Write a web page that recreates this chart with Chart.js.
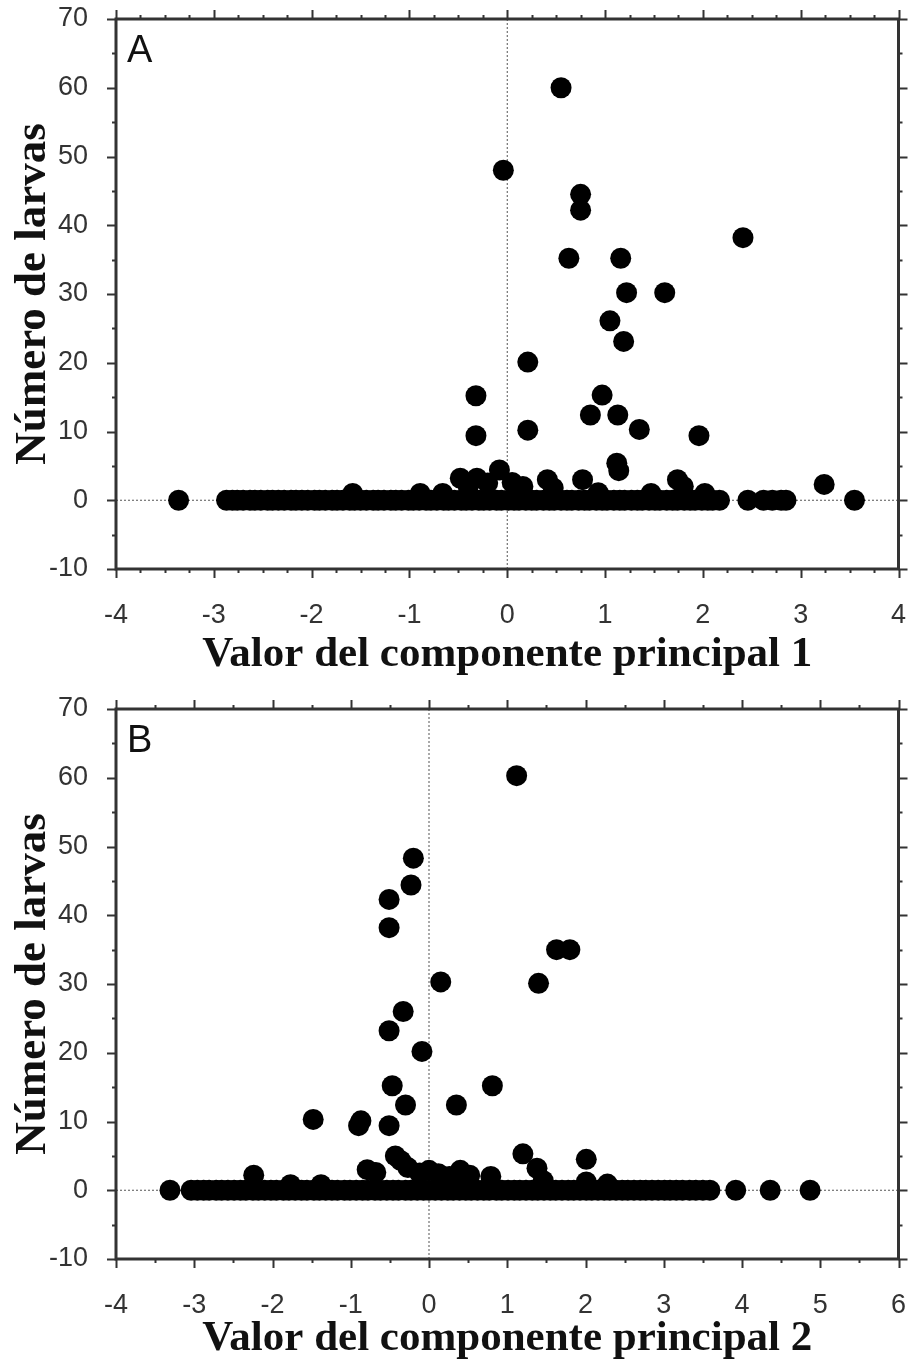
<!DOCTYPE html>
<html>
<head>
<meta charset="utf-8">
<script src="https://cdn.jsdelivr.net/npm/chart.js@4.4.1/dist/chart.umd.min.js"></script>
<style>
    html, body { margin: 0; padding: 0; background: #fff; }
    .panel { position: absolute; left: 0; width: 909px; }
    #panelA { top: 0; height: 683px; }
    #panelB { top: 683px; height: 684px; }
</style>
</head>
<body>
<div class="panel" id="panelA"><canvas id="graficoA"></canvas></div>
<div class="panel" id="panelB"><canvas id="graficoB"></canvas></div>
<script>
// ---- Panel A: componente principal 1 ----
// estaciones con 0 larvas (valor del componente)
const cp1Cero = [
    -3.36, -2.87, -2.81, -2.76, -2.70, -2.63, -2.58, -2.52, -2.45, -2.40, -2.34, -2.28,
    -2.21, -2.16, -2.10, -2.04, -1.97, -1.92, -1.86, -1.79, -1.74, -1.68, -1.61,
    -1.56, -1.50, -1.44, -1.37, -1.32, -1.26, -1.19, -1.14, -1.08, -1.01, -0.96,
    -0.90, -0.83, -0.78, -0.72, -0.65, -0.60, -0.54, -0.47, -0.42, -0.36, -0.29,
    -0.24, -0.18, -0.11, -0.06, 0.01, 0.07, 0.12, 0.19, 0.25, 0.30, 0.37, 0.43,
    0.48, 0.55, 0.61, 0.66, 0.73, 0.79, 0.84, 0.91, 0.97, 1.02, 1.09, 1.15, 1.20,
    1.27, 1.33, 1.38, 1.45, 1.51, 1.56, 1.63, 1.69, 1.74, 1.81, 1.87, 1.92, 1.99,
    2.05, 2.10, 2.17, 2.46, 2.62, 2.71, 2.80, 2.85, 3.55
];
// estaciones con larvas
const cp1Valor = [
    -1.58, -0.89, -0.66, -0.48, -0.40, -0.31, -0.20, -0.08, 0.05, 0.16, 0.41, 0.47,
    0.77, 0.93, 1.12, 1.14, 1.47, 1.74, 1.80, 2.02, 3.24,
    1.96, -0.32, 0.21, 1.35, 0.85, 1.13, -0.32, 0.97, 0.21, 1.19, 1.05, 1.22, 1.61,
    0.63, 1.16, 2.41, 0.75, 0.75, -0.04, 0.55
];
const cp1Larvas = [
    1, 1, 1, 3.2, 2, 3.2, 2.5, 4.4, 2.6, 2, 3, 1.8,
    3, 1.1, 5.4, 4.3, 1, 3, 2, 1, 2.3,
    9.4, 9.4, 10.2, 10.3, 12.4, 12.4, 15.2, 15.3, 20.1, 23.1, 26.1, 30.2, 30.2,
    35.2, 35.2, 38.2, 42.2, 44.5, 48, 60
];

// ---- Panel B: componente principal 2 ----
const cp2Cero = [
    -3.31, -3.04, -2.96, -2.88, -2.81, -2.72, -2.65, -2.57, -2.49, -2.41, -2.34,
    -2.25, -2.18, -2.10, -2.02, -1.95, -1.86, -1.79, -1.71, -1.63, -1.56, -1.47,
    -1.40, -1.32, -1.24, -1.17, -1.08, -1.01, -0.93, -0.85, -0.78, -0.69, -0.62,
    -0.54, -0.46, -0.39, -0.30, -0.23, -0.15, -0.07, 0.00, 0.08, 0.16, 0.24, 0.31,
    0.39, 0.47, 0.54, 0.62, 0.70, 0.77, 0.86, 0.93, 1.01, 1.09, 1.16, 1.24, 1.32,
    1.39, 1.47, 1.55, 1.62, 1.70, 1.78, 1.85, 1.93, 2.01, 2.08, 2.16, 2.24, 2.31,
    2.39, 2.47, 2.54, 2.62, 2.70, 2.77, 2.85, 2.93, 3.01, 3.08, 3.16, 3.24, 3.33,
    3.41, 3.50, 3.59, 3.92, 4.36, 4.87
];
const cp2Valor = [
    -2.24, -1.77, -1.38, -0.79, -0.68, -0.43, -0.36, -0.27, -0.12, 0.00, 0.12, 0.26,
    0.40, 0.52, 0.79, 1.20, 1.38, 1.46, 2.01, 2.01, 2.28,
    -1.48, -0.87, -0.90, -0.51, -0.30, 0.35, -0.47, 0.81, -0.09, -0.51, -0.33, 0.15,
    1.40, 1.63, 1.80, -0.51, -0.51, -0.23, -0.20, 1.12
];
const cp2Larvas = [
    2.2, 0.8, 0.8, 3.0, 2.6, 5.0, 4.3, 3.3, 2.5, 2.9, 2.4, 2.0,
    2.9, 2.2, 2.0, 5.3, 3.2, 1.4, 4.5, 1.2, 0.9,
    10.3, 10.1, 9.4, 9.4, 12.4, 12.4, 15.2, 15.2, 20.2, 23.2, 26, 30.3,
    30.1, 35, 35, 38.2, 42.3, 44.4, 48.3, 60.3
];

// ---- ejes ----
const ticksY = [-10, 0, 10, 20, 30, 40, 50, 60, 70];
const ticksX1 = [-4, -3, -2, -1, 0, 1, 2, 3, 4];
const ticksX2 = [-4, -3, -2, -1, 0, 1, 2, 3, 4, 5, 6];

const fuenteTicks = { family: "'Liberation Sans', Arial, sans-serif", size: 27 };
const fuenteTituloX = { family: "'Liberation Serif', 'Times New Roman', serif", size: 43, weight: 'bold' };
const fuenteTituloY = { family: "'Liberation Serif', 'Times New Roman', serif", size: 45, weight: 'bold' };

// sin relleno extra de las etiquetas: el área del gráfico queda fija
function sinRelleno(s) {
    s.paddingTop = 0; s.paddingBottom = 0; s.paddingLeft = 0; s.paddingRight = 0;
}

// marco con marcas mayores y menores en los cuatro lados + letra del panel
const marco = {
    id: 'marco',
    afterDraw(chart, args, opts) {
        const ctx = chart.ctx;
        const a = chart.chartArea;
        const sx = chart.scales.x, sy = chart.scales.y;
        ctx.save();
        ctx.strokeStyle = '#333';
        ctx.lineWidth = 2;
        for (let v = sx.min; v <= sx.max + 1e-9; v += opts.pasoX) {
            const px = Math.round(sx.getPixelForValue(v)) + 0.5;
            const mayor = Math.abs(v - Math.round(v)) < 1e-6;
            const len = mayor ? 9 : 4;
            ctx.beginPath();
            ctx.moveTo(px, a.bottom); ctx.lineTo(px, a.bottom + len);
            ctx.moveTo(px, a.top); ctx.lineTo(px, a.top - len);
            ctx.stroke();
        }
        for (let v = sy.min; v <= sy.max + 1e-9; v += 5) {
            const py = Math.round(sy.getPixelForValue(v)) + 0.5;
            const len = (v % 10 === 0) ? 9 : 4;
            ctx.beginPath();
            ctx.moveTo(a.left, py); ctx.lineTo(a.left - len, py);
            ctx.moveTo(a.right, py); ctx.lineTo(a.right + len, py);
            ctx.stroke();
        }
        ctx.lineWidth = 3;
        ctx.strokeRect(a.left, a.top, a.right - a.left, a.bottom - a.top);
        ctx.fillStyle = '#111';
        ctx.font = "38px 'Liberation Sans', Arial, sans-serif";
        ctx.textAlign = 'left';
        ctx.textBaseline = 'alphabetic';
        ctx.fillText(opts.letra, a.left + 11, a.top + 43);
        ctx.restore();
    }
};

function crearGrafico(id, cero, valor, larvas, ticksX, pasoX, letra, tituloX, padTop, altoX) {
    const puntos = cero.map(x => ({ x: x, y: 0 }))
        .concat(valor.map((x, i) => ({ x: x, y: larvas[i] })));
    const xMin = ticksX[0], xMax = ticksX[ticksX.length - 1];
    const refStyle = {
        type: 'line',
        borderColor: '#555',
        borderWidth: 1,
        borderDash: [2, 2],
        pointRadius: 0,
        fill: false,
        order: 2
    };
    return new Chart(document.getElementById(id), {
        type: 'scatter',
        data: {
            datasets: [{
                data: puntos,
                backgroundColor: '#000',
                borderWidth: 0,
                pointRadius: 10.5,
                pointHoverRadius: 10.5,
                order: 0
            }, Object.assign({ data: [{ x: 0, y: -10 }, { x: 0, y: 70 }] }, refStyle),
               Object.assign({ data: [{ x: xMin, y: 0 }, { x: xMax, y: 0 }] }, refStyle)]
        },
        options: {
            responsive: true,
            maintainAspectRatio: false,
            devicePixelRatio: 1,
            animation: false,
            layout: { padding: { top: padTop, right: 10, left: 0, bottom: 0 } },
            plugins: {
                legend: { display: false },
                tooltip: { enabled: false },
                marco: { letra: letra, pasoX: pasoX }
            },
            scales: {
                x: {
                    type: 'linear',
                    min: xMin,
                    max: xMax,
                    afterBuildTicks: s => { s.ticks = ticksX.map(v => ({ value: v })); },
                    afterFit: s => { s.height = altoX; sinRelleno(s); },
                    grid: { display: false, drawTicks: false },
                    border: { display: false },
                    ticks: { autoSkip: false, maxRotation: 0, padding: 30, color: '#333', font: fuenteTicks },
                    title: { display: true, text: tituloX, color: '#111', font: fuenteTituloX, padding: { top: 0, bottom: 2 } }
                },
                y: {
                    type: 'linear',
                    min: -10,
                    max: 70,
                    afterBuildTicks: s => { s.ticks = ticksY.map(v => ({ value: v })); },
                    afterFit: s => { s.width = 116; sinRelleno(s); },
                    grid: { display: false, drawTicks: false },
                    border: { display: false },
                    ticks: { padding: 28, color: '#333', font: fuenteTicks },
                    title: { display: true, text: 'Número de larvas', color: '#111', font: fuenteTituloY, padding: { top: 6, bottom: 0 } }
                }
            }
        },
        plugins: [marco]
    });
}

crearGrafico('graficoA', cp1Cero, cp1Valor, cp1Larvas, ticksX1, 0.25, 'A',
    'Valor del componente principal 1', 19, 114);
crearGrafico('graficoB', cp2Cero, cp2Valor, cp2Larvas, ticksX2, 0.5, 'B',
    'Valor del componente principal 2', 26, 108);
</script>
</body>
</html>
